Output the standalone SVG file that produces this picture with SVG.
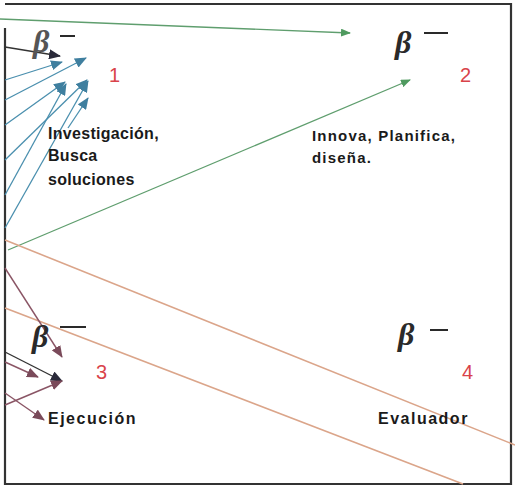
<svg xmlns="http://www.w3.org/2000/svg" width="515" height="486" viewBox="0 0 515 486">
<defs>
<style>
.lbl{font-family:"Liberation Sans",Arial,sans-serif;font-size:16px;font-weight:bold;fill:#1a1a1a;letter-spacing:0.3px}
.lbl2{font-family:"Liberation Sans",Arial,sans-serif;font-size:15px;fill:#1a1a1a;font-weight:bold;letter-spacing:1.2px}
.lbl3{font-family:"Liberation Sans",Arial,sans-serif;font-size:16px;font-weight:bold;fill:#1a1a1a;letter-spacing:1.5px}
.num{font-family:"Liberation Sans",Arial,sans-serif;font-size:20px;fill:#d9434a}
.beta{font-family:"Liberation Serif","Times New Roman",serif;font-size:32px;font-style:italic;font-weight:bold;fill:#2a2a2a}
.sup{stroke:#2a2a2a;stroke-width:2}
.g{stroke:#5f9e6e;stroke-width:1.3;fill:none}
.b{stroke:#4a8fae;stroke-width:1.3;fill:none}
.o{stroke:#dba58a;stroke-width:1.6;fill:none}
.m{stroke:#8a5565;stroke-width:1.4;fill:none}
.k{stroke:#333;stroke-width:1.4;fill:none}
</style>
<marker id="ag" markerWidth="10" markerHeight="8" refX="9" refY="4" orient="auto" markerUnits="userSpaceOnUse"><path d="M0,0 L10,4 L0,8 Z" fill="#4f9a5f"/></marker>
<marker id="ab" markerWidth="12" markerHeight="10" refX="11" refY="5" orient="auto" markerUnits="userSpaceOnUse"><path d="M0,0 L12,5 L0,10 Z" fill="#3f7f9f"/></marker>
<marker id="am" markerWidth="12" markerHeight="10" refX="11" refY="5" orient="auto" markerUnits="userSpaceOnUse"><path d="M0,0 L12,5 L0,10 Z" fill="#7a4a5a"/></marker>
<marker id="ak" markerWidth="12" markerHeight="10" refX="11" refY="5" orient="auto" markerUnits="userSpaceOnUse"><path d="M0,0 L12,5 L0,10 Z" fill="#2a2a3a"/></marker>
</defs>
<rect width="515" height="486" fill="#ffffff"/>
<g id="frame" fill="none" stroke="#333" stroke-width="2.2">
<path d="M5,4 H511 V484 H5 V28"/>
</g>
<g id="connectors">
<line class="g" x1="0" y1="19" x2="350" y2="33" marker-end="url(#ag)"/>
<line class="g" x1="8" y1="250" x2="410" y2="80" marker-end="url(#ag)"/>
<line class="o" x1="5" y1="240" x2="515" y2="445"/>
<line class="o" x1="5" y1="308" x2="463" y2="484"/>
<line class="k" x1="5" y1="47" x2="60" y2="56" marker-end="url(#ak)"/>
<line class="b" x1="5" y1="80" x2="62" y2="62" marker-end="url(#ab)"/>
<line class="b" x1="5" y1="100" x2="86" y2="58" marker-end="url(#ab)"/>
<line class="b" x1="5" y1="125" x2="65" y2="82" marker-end="url(#ab)"/>
<line class="b" x1="5" y1="160" x2="87" y2="80" marker-end="url(#ab)"/>
<line class="b" x1="5" y1="195" x2="66" y2="84" marker-end="url(#ab)"/>
<line class="b" x1="5" y1="228" x2="88" y2="81" marker-end="url(#ab)"/>
<line class="b" x1="68" y1="128" x2="88" y2="98" marker-end="url(#ab)"/>
<line class="m" x1="5" y1="268" x2="62" y2="357" marker-end="url(#am)"/>
<line class="k" x1="5" y1="352" x2="62" y2="381" marker-end="url(#ak)"/>
<line class="m" x1="5" y1="362" x2="38" y2="377" marker-end="url(#am)"/>
<line class="m" x1="5" y1="405" x2="62" y2="381" marker-end="url(#am)"/>
<line class="m" x1="5" y1="393" x2="44" y2="420" marker-end="url(#am)"/>
</g>
<g id="node1">
<text class="beta" x="33" y="52" style="fill:#555">β</text>
<line class="sup" x1="60" y1="36" x2="75" y2="36"/>
<text class="num" x="109" y="82">1</text>
<text class="lbl" x="48" y="139">Investigación,</text>
<text class="lbl" x="48" y="161">Busca</text>
<text class="lbl" x="48" y="185">soluciones</text>
</g>
<g id="node2">
<text class="beta" x="395" y="53">β</text>
<line class="sup" x1="424" y1="33" x2="448" y2="33"/>
<text class="num" x="460" y="82">2</text>
<text class="lbl2" x="312" y="141">Innova, Planifica,</text>
<text class="lbl2" x="312" y="163">diseña.</text>
</g>
<g id="node3">
<text class="beta" x="32" y="347">β</text>
<line class="sup" x1="60" y1="327" x2="86" y2="327"/>
<text class="num" x="96" y="379">3</text>
<text class="lbl3" x="48" y="424">Ejecución</text>
</g>
<g id="node4">
<text class="beta" x="398" y="345">β</text>
<line class="sup" x1="430" y1="330" x2="448" y2="330"/>
<text class="num" x="462" y="379" font-size="14">4</text>
<text class="lbl3" x="378" y="424">Evaluador</text>
</g>
</svg>
